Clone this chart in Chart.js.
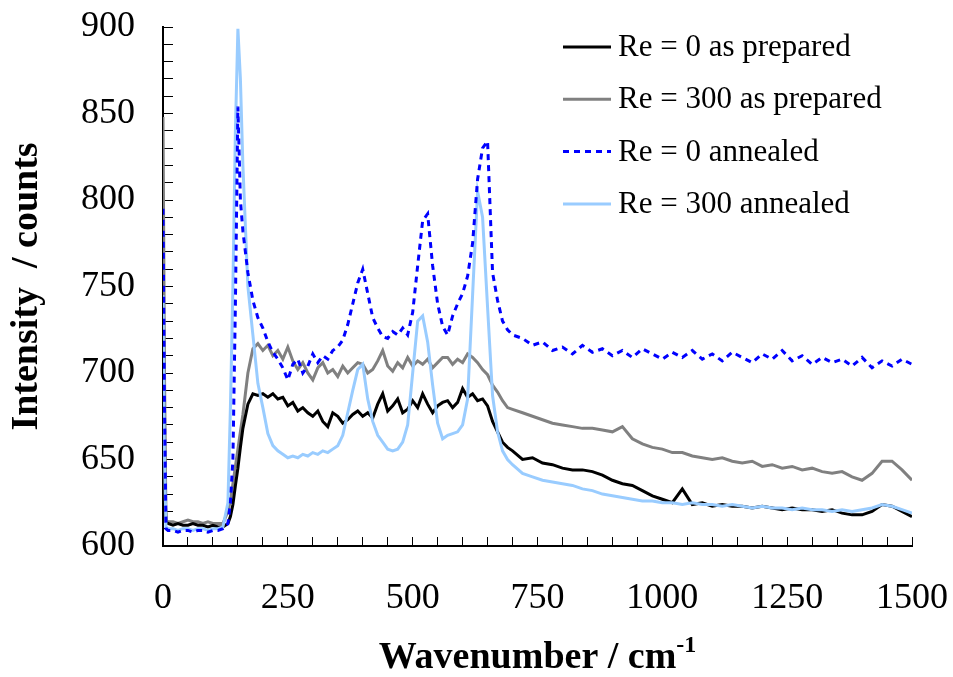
<!DOCTYPE html>
<html>
<head>
<meta charset="utf-8">
<script src="https://cdn.jsdelivr.net/npm/chart.js@4.4.0/dist/chart.umd.min.js"></script>
<style>
    html, body { margin: 0; padding: 0; background: #fff; }
    #wrap { width: 953px; height: 677px; position: relative; }
</style>
</head>
<body>
<div id="wrap"><canvas id="ramanChart"></canvas></div>
<script>
// ========================================
// Raman spectra
// ========================================

const wavenumber = [
    0, 3, 6,
    10, 20, 30, 40, 50, 60, 70, 80, 90, 100, 110, 120,
    130, 135, 140, 145, 150, 155, 160, 165, 170,
    180, 190, 200, 210, 220, 230, 240, 250, 260, 270, 280, 290, 300, 310, 320, 330, 340, 350,
    360, 370, 380, 390, 400, 410, 420, 430, 440, 450, 460, 470, 480, 490, 500, 510, 520, 530,
    540, 550, 560, 570, 580, 590, 600, 610, 620, 630, 640, 650, 660, 670, 680, 690, 700,
    720, 740, 760, 780, 800, 820, 840, 860, 880, 900, 920, 940, 960, 980, 1000, 1020, 1040,
    1060, 1080, 1100, 1120, 1140, 1160, 1180, 1200, 1220, 1240, 1260, 1280, 1300, 1320, 1340,
    1360, 1380, 1400, 1420, 1440, 1460, 1480, 1500
];

const re0Prepared = [
    720, 640, 614,
    613, 612, 613, 612, 612, 613, 612, 612, 611, 612, 611, 611,
    613, 617, 624, 635, 645, 657, 668, 675, 682,
    688, 687, 688, 686, 688, 685, 686, 681, 683, 678, 680, 677, 675, 678, 672, 669, 677, 675,
    671, 673, 676, 678, 675, 677, 674, 682, 688, 678, 681, 685, 677, 679, 684, 680, 688, 682,
    677, 681, 683, 684, 680, 683, 691, 686, 688, 684, 685, 681, 672, 666, 660, 657, 655,
    650, 651, 648, 647, 645, 644, 644, 643, 641, 638, 636, 635, 632, 629, 627, 625, 633,
    624, 625, 623, 624, 623, 623, 622, 623, 622, 621, 622, 621, 621, 620, 621,
    619, 618, 618, 620, 624, 623, 620, 617
];

const re300Prepared = [
    848, 700, 615,
    614, 614, 613, 614, 615, 614, 614, 613, 614, 613, 613, 613,
    620, 626, 636, 646, 656, 666, 676, 688, 700,
    714, 717, 713, 716, 710, 713, 708, 715, 707, 702, 706, 700, 696, 703, 706, 700, 702, 698,
    704, 700, 703, 706, 705, 700, 702, 707, 713, 704, 701, 706, 703, 709, 704, 707, 705, 708,
    703, 706, 709, 709, 705, 708, 706, 711, 709, 706, 702, 699, 693, 689, 684, 680, 679,
    677, 675, 673, 671, 670, 669, 668, 668, 667, 666, 669, 662, 659, 657, 656, 654, 654,
    652, 651, 650, 651, 649, 648, 649, 646, 647, 645, 646, 644, 645, 643, 642,
    643, 640, 638, 642, 649, 649, 644, 638
];

const re0Annealed = [
    795, 680, 610,
    609, 609, 608, 609, 609, 608, 609, 609, 608, 609, 609, 610,
    613, 625, 650, 740, 854, 800, 782, 770, 758,
    742, 732, 726, 718, 712, 708, 703, 696, 705, 708, 700, 704, 711, 706, 710, 708, 713, 715,
    719, 728, 740, 752, 760, 746, 732, 726, 721, 720, 724, 722, 726, 722, 735, 762, 788, 792,
    762, 740, 727, 722, 733, 740, 746, 756, 775, 812, 830, 834, 758, 742, 730, 725, 722,
    720, 716, 718, 713, 715, 711, 716, 712, 714, 710, 713, 709, 714, 711, 708, 712, 709,
    713, 708, 711, 707, 712, 709, 706, 711, 708, 713, 707, 710, 705, 709, 706,
    708, 704, 709, 703, 707, 704, 708, 705
];

const re300Annealed = [
    745, 650, 611,
    610, 610, 609, 610, 610, 609, 610, 610, 609, 610, 610, 611,
    625, 680, 750, 840, 899, 870, 820, 785, 750,
    722, 694, 680, 665, 658, 655, 653, 651, 652, 651, 653, 652, 654, 653, 655, 654, 656, 658,
    664, 677, 690, 702, 705, 685, 672, 664, 660, 656, 655, 656, 660, 670, 700, 730, 733, 718,
    693, 671, 662, 664, 665, 666, 670, 685, 745, 805, 790, 738, 687, 666, 655, 650, 647,
    642, 640, 638, 637, 636, 635, 633, 632, 630, 629, 628, 627, 626, 626, 625, 625, 624,
    625, 624, 624, 623, 624, 623, 622, 623, 622, 622, 621, 622, 621, 621, 620,
    621, 620, 621, 622, 624, 623, 621, 619
];

const seriesLabels = ['Re = 0 as prepared', 'Re = 300 as prepared', 'Re = 0 annealed', 'Re = 300 annealed'];

const serif = "'Liberation Serif', 'Times New Roman', serif";

function toPoints(values) {
    return wavenumber.map((x, i) => ({ x: x, y: values[i] }));
}

// 圖例 + x 軸標題（含上標）
const overlayPlugin = {
    id: 'overlay',
    afterDraw(chart) {
        const ctx = chart.ctx;
        const area = chart.chartArea;
        ctx.save();

        // legend, top right inside the plot
        const x0 = area.right - 349;
        const x1 = area.right - 301;
        const tx = area.right - 294;
        ctx.font = '31px ' + serif;
        ctx.textBaseline = 'middle';
        ctx.textAlign = 'left';
        chart.data.datasets.forEach((ds, i) => {
            const y = area.top + 20 + i * 52.3;
            ctx.beginPath();
            ctx.strokeStyle = ds.borderColor;
            ctx.lineWidth = ds.borderWidth;
            ctx.setLineDash(ds.borderDash || []);
            ctx.moveTo(x0, y);
            ctx.lineTo(x1, y);
            ctx.stroke();
            ctx.setLineDash([]);
            ctx.fillStyle = '#000';
            ctx.fillText(ds.label, tx, y + 1);
        });

        // x axis title with superscript
        const main = 'Wavenumber / cm';
        const sup = '-1';
        ctx.font = 'bold 38px ' + serif;
        const w1 = ctx.measureText(main).width;
        ctx.font = 'bold 24px ' + serif;
        const w2 = ctx.measureText(sup).width;
        const cx = (area.left + area.right) / 2;
        const start = cx - (w1 + w2) / 2;
        const base = 668;
        ctx.textBaseline = 'alphabetic';
        ctx.font = 'bold 38px ' + serif;
        ctx.fillText(main, start, base);
        ctx.font = 'bold 24px ' + serif;
        ctx.fillText(sup, start + w1, base - 16);

        ctx.restore();
    }
};

const ctx = document.getElementById('ramanChart').getContext('2d');
new Chart(ctx, {
    type: 'line',
    data: {
        datasets: [
            {
                label: seriesLabels[0],
                data: toPoints(re0Prepared),
                borderColor: '#000000',
                borderWidth: 3,
                order: 2
            },
            {
                label: seriesLabels[1],
                data: toPoints(re300Prepared),
                borderColor: '#808080',
                borderWidth: 3,
                order: 3
            },
            {
                label: seriesLabels[2],
                data: toPoints(re0Annealed),
                borderColor: '#0000ff',
                borderWidth: 3,
                borderDash: [6, 5],
                order: 0
            },
            {
                label: seriesLabels[3],
                data: toPoints(re300Annealed),
                borderColor: '#99ccff',
                borderWidth: 3,
                order: 1
            }
        ]
    },
    options: {
        responsive: true,
        maintainAspectRatio: false,
        animation: false,
        layout: {
            padding: { top: 27, right: 41, bottom: 0, left: 0 }
        },
        elements: {
            point: { radius: 0 },
            line: { tension: 0, fill: false }
        },
        scales: {
            x: {
                type: 'linear',
                min: 0,
                max: 1500,
                afterFit: scale => {
                    scale.height = 131;
                    scale.paddingLeft = 0;
                    scale.paddingRight = 0;
                },
                border: { display: true, color: '#000', width: 2 },
                grid: {
                    drawOnChartArea: false,
                    drawTicks: true,
                    tickLength: -9,
                    tickColor: '#000',
                    tickWidth: 1
                },
                ticks: {
                    stepSize: 50,
                    autoSkip: false,
                    maxRotation: 0,
                    padding: 40,
                    color: '#000',
                    font: { family: serif, size: 36 },
                    callback: v => (v % 250 === 0 ? v : '')
                },
                title: { display: false }
            },
            y: {
                min: 600,
                max: 900,
                afterFit: scale => {
                    scale.width = 163;
                    scale.paddingTop = 0;
                    scale.paddingBottom = 0;
                },
                border: { display: true, color: '#000', width: 2 },
                grid: {
                    drawOnChartArea: false,
                    drawTicks: true,
                    tickLength: -10,
                    tickColor: '#000',
                    tickWidth: 1
                },
                ticks: {
                    stepSize: 10,
                    autoSkip: false,
                    padding: 38,
                    color: '#000',
                    font: { family: serif, size: 36 },
                    callback: v => (v % 50 === 0 ? v : '')
                },
                title: {
                    display: true,
                    text: 'Intensity  / counts',
                    color: '#000',
                    font: { family: serif, size: 38, weight: 'bold' },
                    padding: { top: 4, bottom: 0 }
                }
            }
        },
        plugins: {
            legend: { display: false },
            tooltip: { enabled: false }
        }
    },
    plugins: [overlayPlugin]
});
</script>
</body>
</html>
